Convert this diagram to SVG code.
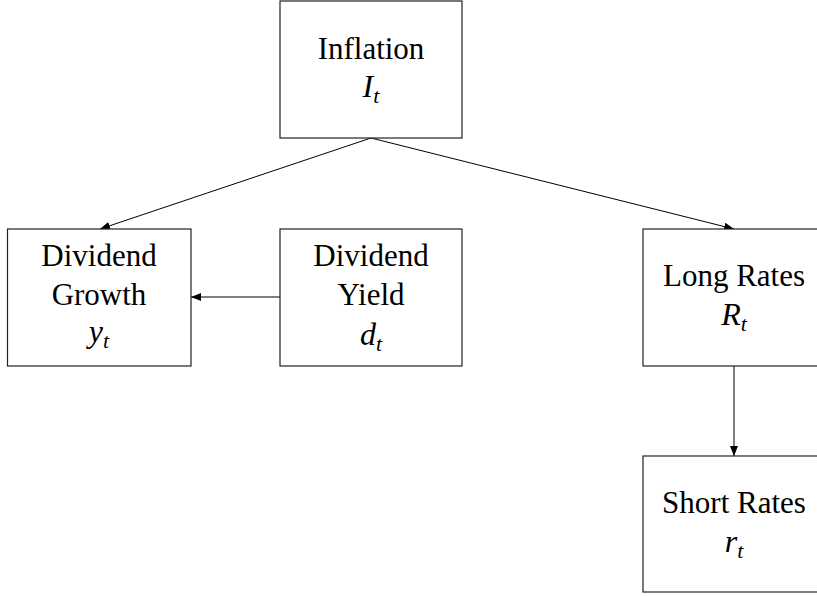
<svg xmlns="http://www.w3.org/2000/svg" width="817" height="596" viewBox="0 0 817 596">
<style>
.box{fill:#fff;stroke:#222;stroke-width:1.2}
.lbl{font-family:"Liberation Serif","Times New Roman",serif;font-size:31px;fill:#000;text-anchor:middle}
.m{font-style:italic;font-size:32px}
.sub{font-size:22px}
.edge{stroke:#000;stroke-width:1;fill:none;marker-end:url(#ah)}
</style>
<defs>
<marker id="ah" viewBox="0 0 10 8" refX="10" refY="4" markerWidth="10" markerHeight="8" markerUnits="userSpaceOnUse" orient="auto">
<path d="M0,0 L10,4 L0,8 Z" fill="#000"/>
</marker>
</defs>
<rect width="817" height="596" fill="#fff"/>
<g id="edges">
<line class="edge" x1="371" y1="138" x2="100" y2="229"/>
<line class="edge" x1="371" y1="138" x2="734" y2="229"/>
<line class="edge" x1="280" y1="297" x2="191" y2="297"/>
<line class="edge" x1="734" y1="366" x2="734" y2="456"/>
</g>
<g id="inflation">
<rect class="box" x="280" y="1" width="182" height="137"/>
<text class="lbl" x="371" y="59">Inflation</text>
<text class="lbl m" x="371" y="97">I<tspan class="sub" dy="6">t</tspan></text>
</g>
<g id="dividend-growth">
<rect class="box" x="7.5" y="229" width="183.5" height="137"/>
<text class="lbl" x="99" y="266">Dividend</text>
<text class="lbl" x="99" y="305">Growth</text>
<text class="lbl m" x="99" y="342">y<tspan class="sub" dy="6">t</tspan></text>
</g>
<g id="dividend-yield">
<rect class="box" x="280" y="229" width="182" height="137"/>
<text class="lbl" x="371" y="266">Dividend</text>
<text class="lbl" x="371" y="305">Yield</text>
<text class="lbl m" x="371" y="345">d<tspan class="sub" dy="6">t</tspan></text>
</g>
<g id="long-rates">
<rect class="box" x="643" y="229" width="182" height="137"/>
<text class="lbl" x="734" y="286">Long Rates</text>
<text class="lbl m" x="734" y="325">R<tspan class="sub" dy="6">t</tspan></text>
</g>
<g id="short-rates">
<rect class="box" x="643" y="456" width="182" height="136"/>
<text class="lbl" x="734" y="513">Short Rates</text>
<text class="lbl m" x="734" y="552">r<tspan class="sub" dy="6">t</tspan></text>
</g>
</svg>
